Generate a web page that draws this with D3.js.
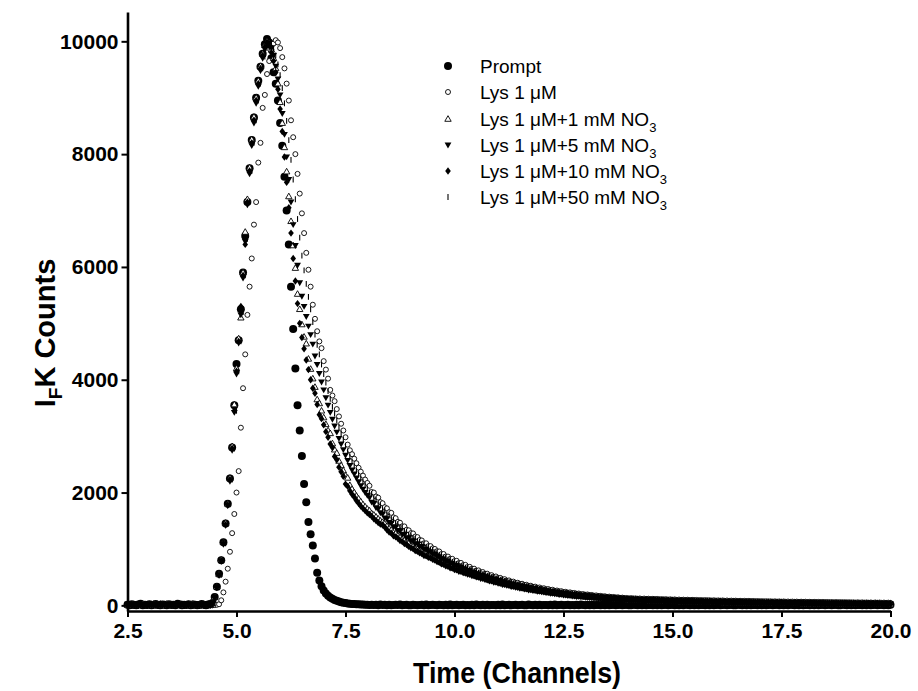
<!DOCTYPE html>
<html><head><meta charset="utf-8">
<script src="https://cdn.jsdelivr.net/npm/d3@7"></script>
<style>
body{margin:0;background:#fff}
svg{display:block}
text{font-family:"Liberation Sans",Arial,Helvetica,sans-serif;fill:#000}
</style>
</head><body>
<svg id="chart" width="918" height="691"></svg>
<script>
// ---- axis ticks ----
const xTickValues = [2.5, 5, 7.5, 10, 12.5, 15, 17.5, 20];
const yTickValues = [0, 2000, 4000, 6000, 8000, 10000];

// ---- channel grid (time of first channel and channel width, ns) ----
const channelStart = 2.5;
const channelWidth = 0.05;

// ---- legend ----
const legendLabels = ["Prompt", "Lys 1 \u03BCM", "Lys 1 \u03BCM+1 mM NO", "Lys 1 \u03BCM+5 mM NO", "Lys 1 \u03BCM+10 mM NO", "Lys 1 \u03BCM+50 mM NO"];
const legendSubs = ["", "", "3", "3", "3", "3"];

// ---- counts per channel ----
const promptCounts = [
10,0,20,5,0,15,30,0,10,5, 20,0,10,25,5,0,15,10,0,20, 5,10,0,30,15,0,10,5,20,0, 15,10,0,5,25,10,0,15,20,
40,150,330,560,800,1120,1450,1800,2250,2800, 3550,4280,4700,5250,5900,6550,7150,7750,8250,8650,
9000,9300,9550,9780,9950,10040,9980,9700,9450,9250, 8950,8550,8150,7600,7000,6400,5650,4900,4200,3550,
3100,2650,2150,1830,1480,1260,1060,830,580,440, 340,265,210,170,140,115,95,82,68,57,
48,40,35,30,26,22,20,18,15,14, 12,10,
8,12,5,10,0,15,6,10,3,12, 0,8,10,5,15,0,6,10,4,0, 12,5,0,8,10,3,15,0,6,10, 5,0,12,8,0,10,4,15,0,6,
10,0,5,12,0,8,3,10,0,15, 6,0,10,4,12,0,8,5,0,10, 3,15,0,6,10,0,5,12,0,8, 10,4,0,15,6,0,10,3,12,0,
8,5,0,10,4,15,0,6,10,0, 5,12,0,8,3,10,0,15,6,0, 10,4,12,0,8,5,0,10,3,15, 0,6,10,0,5,12,0,8,10,4,
0,15,6,0,10,3,12,0,8,5, 0,10,4,15,0,6,10,0,5,12, 0,8,3,10,0,15,6,0,10,4, 12,0,8,5,0,10,3,15,0,6,
10,0,5,12,0,8,10,4,0,15, 6,0,10,3,12,0,8,5,0,10, 4,15,0,6,10,0,5,12,0,8, 3,10,0,15,6,0,10,4,12,0,
8,5,0,10,3,15,0,6,10,0, 5,12,0,8,10,4,0,15,6,0, 10,3,12,0,8,5,0,10,4,15, 0,6,10,0,5,12,0,8,3,10
];

const lys1Counts = [
5,10,0,25,15,0,10,20,5,0, 15,10,30,0,5,20,10,0,15,5, 25,10,0,15,20,5,0,10,15,25, 0,5,10,20,0,15,5,10,0,
0,5,10,20,90,230,420,
650,950,1280,1620,2000,2380,3150,3850,4450,5150, 5650,6150,6750,7150,7850,8200,8820,9050,9420,9650,
9850,9960,10020,9980,9880,9720,9520,9250,8950,8600, 8300,8000,7650,7300,6950,6600,6250,5950,5650,5330,
5080,4860,4680,4560,4330,4180,4020,3820,3720,3620, 3480,3350,3220,3100,2980,2850,2750,2680,2600,2520,
2440,2370,2300,2230,2170,
2120,2010,2000,1930,1910,1830,1810,1740,1720,1650, 1640,1560,1545,1480,1465,1400,1400,1340,1330,1280,
1275,1220,1210,1160,1150,1100,1100,1050,1050,1010, 1000,960,955,910,910,865,865,825,825,785,
790,750,752,715,718,680,683,648,650,615, 620,587,590,558,562,532,535,507,512,482,
487,460,464,438,442,417,421,397,401,379, 383,361,365,344,348,328,332,312,317,298,
303,284,289,271,276,258,263,246,251,235, 240,225,230,215,220,205,210,196,200,188,
193,180,184,172,176,165,168,157,161,150, 155,144,149,138,143,132,137,127,131,122,
128,120,124,117,122,115,120,113,118,111, 116,109,114,106,111,104,109,102,107,100,
105,98,103,96,101,95,100,93,98,92, 96,90,94,88,93,87,91,85,90,84,
88,83,87,81,86,80,84,79,83,77, 81,76,80,74,79,73,77,72,76,70,
74,69,73,68,72,67,71,66,70,65, 69,64,68,63,67,62,66,61,65,60,
64,59,63,58,62,57,61,56,60,55, 59,54,58,53,58,53,57,52,56,51,
55,50,54,49,54,49,53,48,52,47, 51,46,51,46,50,45,49,44,48,44
];

const nitrate1Counts = [
5,20,0,10,15,0,5,25,10,0, 20,5,15,0,10,5,20,0,25,10, 5,15,0,10,20,5,0,15,10,5, 25,0,10,15,5,20,0,10,15,
35,150,330,550,810,1120,1460,1800,2260,2820, 3560,4200,4730,5100,5900,6620,7200,7760,8260,8660,
9000,9300,9560,9780,9930,10000,9960,9850,9700,9520, 9250,8920,8550,8120,7690,7250,6810,6380,5980,5520,
5250,4980,4760,4640,4370,4190,4020,3870,3650,3580, 3450,3330,3210,3100,3050,2870,2760,2700,2560,2480,
2390,2300,2260,2130,2060,2000,1940,1890,1840,1790, 1750,1710,
1680,1630,1605,1570,1535,1500,1475,1445,1405,1360, 1335,1285,1270,1235,1205,1170,1150,1115,1095,1055,
1045,1010,1000,965,955,920,915,880,880,845, 840,805,800,765,760,730,725,690,690,660,
655,630,630,600,600,575,575,550,550,525, 525,500,502,478,478,455,455,434,433,412,
410,392,391,372,372,354,354,337,337,320, 320,305,305,290,290,277,277,264,264,251,
252,240,240,228,228,217,217,206,206,196, 197,187,187,178,178,170,170,161,163,154,
156,147,149,140,143,134,136,128,131,122, 125,117,120,112,115,107,110,102,105,97,
101,93,97,89,93,86,89,82,86,79, 83,76,80,73,77,70,74,68,72,65,
69,63,67,61,65,59,63,57,61,55, 59,53,57,51,55,50,54,48,52,46,
50,45,49,43,48,42,46,41,45,40, 44,39,43,38,42,37,41,36,40,35,
39,34,38,33,37,32,37,31,36,30, 35,30,34,29,34,28,33,28,32,27,
32,27,31,26,31,25,30,25,29,24, 29,24,28,23,28,22,27,22,26,21,
26,21,25,20,25,20,24,19,24,19, 23,18,23,18,22,17,22,17,21,16
];

const nitrate5Counts = [
20,5,0,15,10,25,0,5,15,10, 0,20,5,15,0,10,25,5,0,15, 10,0,20,5,10,15,0,25,5,10, 0,20,15,0,10,5,20,0,10,
30,140,310,530,780,1080,1420,1770,2200,2750, 3420,4100,4650,5150,5800,6450,7100,7650,8150,8550,
8900,9200,9480,9700,9860,9950,9960,9880,9750,9560, 9330,9050,8720,8350,7950,7550,7150,6750,6380,6030,
5720,5480,5300,5120,4950,4800,4630,4420,4270,4110, 3960,3820,3680,3550,3420,3300,3180,3070,2960,2860,
2760,2660,2570,2480,2400,2330,2260,2190,2120,2060, 2000,1950,
1910,1830,1805,1730,1712,1640,1620,1550,1535,1470, 1455,1395,1385,1328,1318,1262,1256,1200,1195,1145,
1140,1092,1090,1043,1042,996,995,952,951,910, 906,866,862,824,821,784,781,746,743,710,
708,678,676,646,645,617,615,588,587,561, 560,535,534,509,508,485,484,462,461,440,
439,419,418,398,398,380,379,362,361,344, 344,328,328,313,312,298,298,285,285,272,
271,259,258,246,246,234,234,223,223,212, 213,202,203,193,194,185,185,177,177,169,
169,162,162,155,155,148,148,141,142,135, 136,129,130,124,124,118,119,113,114,108,
112,105,108,103,106,100,103,97,100,95, 99,92,96,90,94,88,92,86,89,83,
87,81,85,79,83,78,82,76,80,74, 78,72,77,71,75,69,73,68,72,66,
70,65,69,63,68,62,66,61,65,59, 63,58,62,57,61,56,60,55,59,53,
57,52,56,51,55,50,54,49,53,48, 52,47,51,46,50,45,49,44,48,43,
47,43,47,42,46,41,45,40,44,39, 43,39,43,38,42,37,41,37,40,36,
39,36,39,35,38,34,38,34,37,33, 36,33,36,32,35,31,35,31,34,30
];

const nitrate10Counts = [
0,15,5,20,10,0,25,10,5,0, 15,20,5,10,0,30,5,15,0,10, 20,5,0,15,10,25,0,5,20,10, 0,15,5,10,20,0,10,30,5,
30,140,320,540,790,1100,1430,1780,2230,2780, 3450,4150,4680,5300,5850,6400,7150,7700,8200,8600,
8950,9250,9520,9750,9900,9980,9920,9800,9650,9450, 9150,8800,8400,7950,7500,7050,6600,6150,5750,5350,
5000,4750,4550,4350,4180,4000,3850,3760,3560,3380, 3310,3200,3080,2980,2860,2800,2640,2580,2450,2370,
2290,2150,2110,2030,1970,1920,1860,1810,1760,1720, 1680,1640,
1610,1580,1535,1505,1470,1440,1425,1390,1340,1300, 1280,1235,1215,1190,1150,1130,1095,1080,1045,1020,
1005,970,960,930,920,885,880,850,845,815, 805,775,765,735,730,700,695,665,660,635,
630,605,605,580,575,555,550,530,525,505, 500,480,480,460,455,435,435,415,412,395,
392,375,372,360,356,340,338,325,322,308, 305,292,292,278,279,268,266,255,254,243,
242,230,231,218,220,210,209,198,199,188, 188,179,180,170,171,162,163,154,156,148,
149,141,143,135,137,129,131,124,125,118, 119,113,116,108,111,104,106,99,101,94,
95,90,93,86,89,83,86,80,83,78, 80,75,78,72,76,70,73,68,71,66,
69,63,67,61,65,59,63,58,61,56, 59,54,57,52,56,51,54,49,53,48,
51,47,50,45,49,44,48,43,47,42, 46,41,45,40,44,39,43,38,42,37,
41,36,40,35,39,35,38,34,38,33, 37,32,36,31,35,31,34,30,34,29,
33,29,32,28,32,27,31,27,30,26, 30,26,29,25,29,24,28,24,27,23,
27,23,26,22,26,21,25,21,24,20, 24,20,23,19,23,18,22,18,21,17
];

const nitrate50Counts = [
15,0,10,20,5,0,15,10,25,5, 0,10,20,0,15,5,10,0,20,10, 5,25,0,15,5,10,0,20,5,15, 0,10,25,5,0,15,10,5,20,
10,40,150,320,540,800,1100,1440,1790,2230, 2780,3450,4150,4680,5200,5850,6500,7150,7700,8200,
8600,8950,9250,9520,9730,9880,9960,
9950,9870,9750,9590,9400,9170,8900,8590,8250,7900, 7550,7200,6850,6520,6200,5940,5700,5470,5250,5020,
4800,4620,4450,4270,4100,3950,3800,3660,3520,3400, 3280,3160,3050,2940,2830,2730,2630,2550,2470,2390,
2320,2250,2190,2130,2070,
2000,1975,1895,1872,1795,1775,1700,1682,1610,1592, 1530,1515,1455,1442,1383,1372,1315,1305,1250,1240,
1192,1184,1137,1131,1085,1080,1035,1031,988,984, 942,937,896,891,852,848,811,807,771,767,
735,732,701,698,668,666,637,635,608,606, 580,577,552,550,526,524,501,499,477,475,
455,452,433,430,412,410,392,390,373,372, 356,354,340,338,324,322,308,307,294,293,
280,279,267,266,254,253,243,241,231,230, 221,220,211,210,202,201,193,192,184,184,
176,176,168,169,161,162,154,155,147,148, 141,142,135,136,129,131,124,125,119,120,
115,117,112,115,109,112,107,109,104,107, 102,105,100,102,97,100,95,98,93,96,
91,94,89,92,87,90,86,89,84,87, 82,85,81,84,79,82,77,81,76,79,
74,78,73,76,72,75,70,73,69,72, 67,71,66,70,65,68,64,67,63,66,
61,65,60,64,59,63,58,61,57,60, 55,59,54,58,53,57,52,56,51,55,
51,54,50,53,49,53,48,52,47,51, 47,50,46,49,45,49,44,48,43,47,
43,46,42,45,41,45,40,44,39,43, 39,42,38,42,37,41,37,40,36,40
];

// ---- series (drawing order) ----
const seriesData = [promptCounts, lys1Counts, nitrate1Counts, nitrate5Counts, nitrate10Counts, nitrate50Counts];
const seriesMarkers = ["disc", "ring", "triUp", "triDown", "diamond", "bar"];

// ---- chart ----
const svg = d3.select("#chart");
svg.append("rect").attr("width", 918).attr("height", 691).attr("fill", "#fff");

const x = d3.scaleLinear().domain([2.5, 20]).range([127.5, 890.5]);
const y = d3.scaleLinear().domain([-100, 10520]).range([611, 12]);

function drawMarker(sel, kind) {
  if (kind === "disc") {
    sel.append("circle").attr("r", 4).attr("fill", "#000");
  } else if (kind === "ring") {
    sel.append("circle").attr("r", 2.5).attr("fill", "#fff").attr("stroke", "#000").attr("stroke-width", 0.9);
  } else if (kind === "triUp") {
    sel.append("path").attr("d", "M0,-3.3L3.2,2.3L-3.2,2.3Z").attr("fill", "#fff").attr("stroke", "#000").attr("stroke-width", 0.9);
  } else if (kind === "triDown") {
    sel.append("path").attr("d", "M-3.4,-2.5L3.4,-2.5L0,3.4Z").attr("fill", "#000");
  } else if (kind === "diamond") {
    sel.append("path").attr("d", "M0,-3.7L2.8,0L0,3.7L-2.8,0Z").attr("fill", "#000");
  } else if (kind === "bar") {
    sel.append("line").attr("y1", -2.9).attr("y2", 2.9).attr("stroke", "#000").attr("stroke-width", 1.1);
  }
}

const plot = svg.append("g");
seriesData.forEach((arr, si) => {
  const pts = arr.map((v, i) => ({t: channelStart + i * channelWidth, v: v}));
  const g = plot.append("g");
  g.selectAll("g").data(pts).join("g")
    .attr("transform", d => `translate(${x(d.t)},${y(d.v)})`)
    .each(function() { drawMarker(d3.select(this), seriesMarkers[si]); });
});

// axes
const xAxis = svg.append("g").attr("transform", "translate(0,611)")
  .call(d3.axisBottom(x).tickValues(xTickValues).tickFormat(d3.format(".1f")).tickSize(6).tickSizeOuter(0).tickPadding(6));
const yAxis = svg.append("g").attr("transform", "translate(127.5,0)")
  .call(d3.axisLeft(y).tickValues(yTickValues).tickFormat(d3.format("d")).tickSize(6).tickSizeOuter(0).tickPadding(3));
[xAxis, yAxis].forEach(a => {
  a.select(".domain").attr("stroke", "#000").attr("stroke-width", 2.6);
  a.selectAll(".tick line").attr("stroke", "#000").attr("stroke-width", 2);
  a.selectAll(".tick text").attr("fill", "#000")
    .style("font-family", "'Liberation Sans', Arial, sans-serif")
    .style("font-size", "21px").style("font-weight", "bold");
});

// axis titles
svg.append("text").attr("x", 517).attr("y", 683).attr("text-anchor", "middle")
  .attr("textLength", 208).attr("lengthAdjust", "spacingAndGlyphs")
  .style("font-size", "30px").style("font-weight", "bold").text("Time (Channels)");

const yt = svg.append("text").attr("transform", "translate(55,333) rotate(-90)").attr("text-anchor", "middle")
  .style("font-size", "29px").style("font-weight", "bold");
yt.append("tspan").text("I");
yt.append("tspan").attr("dy", 7).style("font-size", "19px").text("F");
yt.append("tspan").attr("dy", -7).text("K Counts");

// legend
const legendY = [66, 92, 119, 145, 171, 197];
legendLabels.forEach((lab, i) => {
  const mg = svg.append("g").attr("transform", `translate(448,${legendY[i]})`);
  drawMarker(mg, seriesMarkers[i]);
  const t = svg.append("text").attr("x", 480).attr("y", legendY[i] + 7).style("font-size", "19px");
  t.append("tspan").text(lab);
  if (legendSubs[i]) t.append("tspan").attr("dy", 6).style("font-size", "13px").text(legendSubs[i]);
});
</script>
</body></html>
